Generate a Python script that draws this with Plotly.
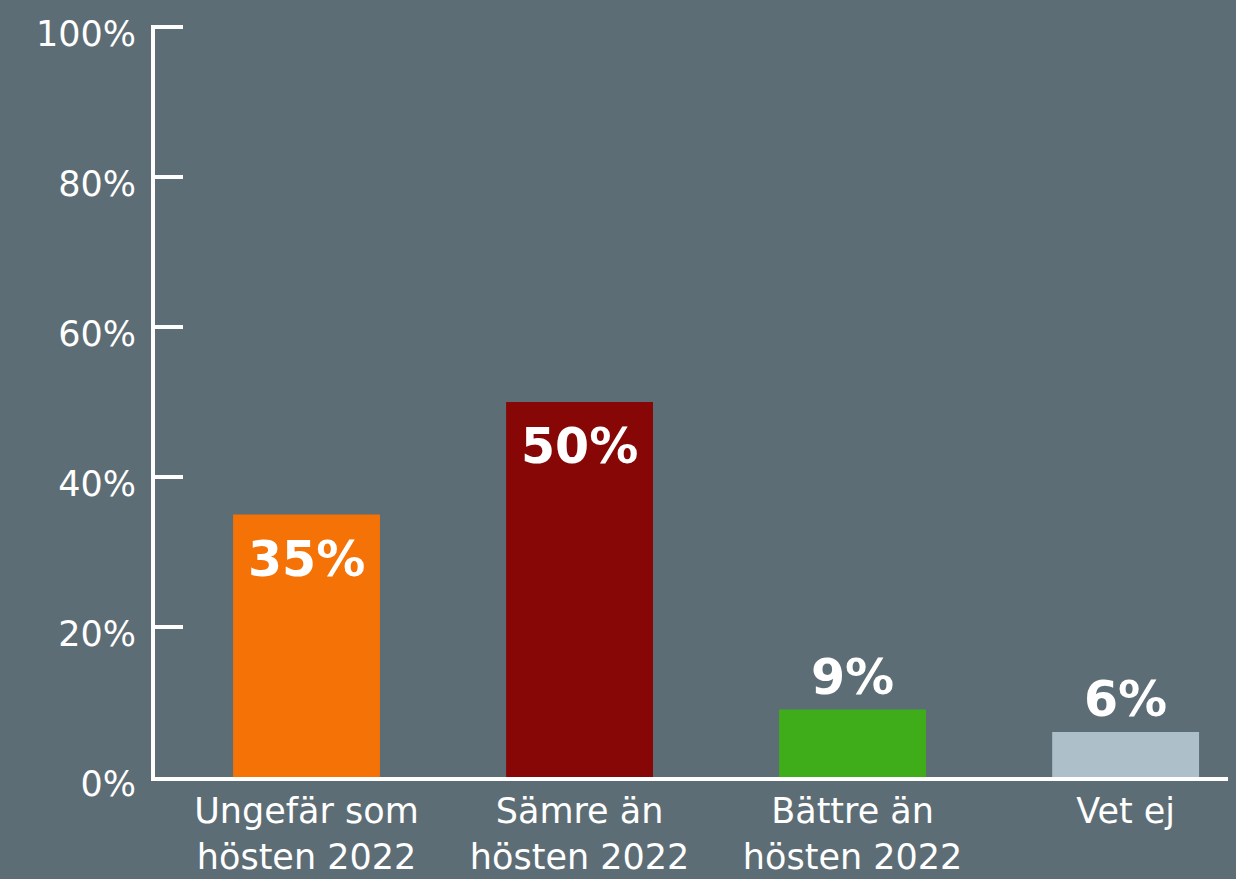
import plotly.graph_objects as go

categories = ["Ungefär som<br>hösten 2022", "Sämre än<br>hösten 2022", "Bättre än<br>hösten 2022", "Vet ej"]
values = [35, 50, 9, 6]
bar_colors = ["#f47206", "#870606", "#3fad1a", "#adbfc9"]
y_tickvals = [0, 20, 40, 60, 80, 100]
y_ticktext = ["0%", "20%", "40%", "60%", "80%", "100%"]

BG = "#5d6d75"
FONT = "DejaVu Sans"

fig = go.Figure()
fig.add_trace(go.Bar(
    x=list(range(len(categories))), y=values,
    marker=dict(color=bar_colors, line=dict(width=0)),
    width=0.538, hoverinfo="skip",
))

for i, v in enumerate(values):
    inside = v > 20
    fig.add_annotation(
        x=i, y=v, xref="x", yref="y",
        text=f"<b>{v}%</b>", showarrow=False,
        yanchor="top" if inside else "bottom",
        yshift=-14 if inside else 2,
        font=dict(family=FONT, size=49, color="white"),
    )

fig.update_layout(
    width=1236, height=879,
    margin=dict(l=155, r=8, t=25, b=102, pad=0),
    paper_bgcolor=BG, plot_bgcolor=BG,
    showlegend=False,
    font=dict(family=FONT, color="white"),
    xaxis=dict(
        range=[-0.555, 3.375], automargin=False,
        tickvals=list(range(len(categories))), ticktext=categories,
        tickfont=dict(family=FONT, size=35, color="white"),
        showline=True, linecolor="white", linewidth=4,
        showgrid=False, zeroline=False, ticks="",
    ),
    yaxis=dict(
        range=[0, 100.27], automargin=False,
        tickvals=y_tickvals, ticktext=y_ticktext,
        tickfont=dict(family=FONT, size=35, color="white"),
        showline=True, linecolor="white", linewidth=4,
        ticks="inside", ticklen=28, tickwidth=4, tickcolor="white",
        showgrid=False, zeroline=False, ticklabelstandoff=8,
        ticklabelshift=7,
    ),
)

fig.write_html("out.html")
